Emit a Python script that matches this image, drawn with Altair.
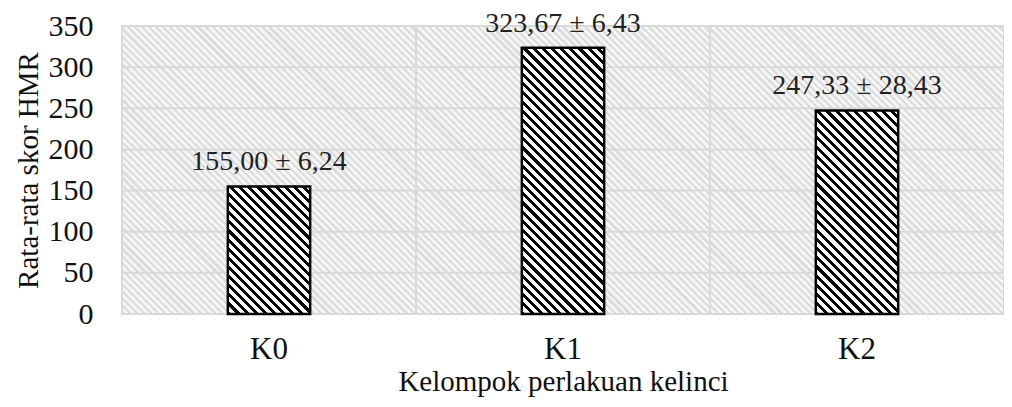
import math
import altair as alt
import pandas as pd

# ---- data ----
categories = ["K0", "K1", "K2"]
means = [155.00, 323.67, 247.33]
sds = [6.24, 6.43, 28.43]
y_ticks = [0, 50, 100, 150, 200, 250, 300, 350]
y_domain = [0, 350]

labels = [f"{m:.2f}".replace(".", ",") + " \u00b1 " + f"{s:.2f}".replace(".", ",")
          for m, s in zip(means, sds)]
df = pd.DataFrame({"cat": categories, "mean": means, "label": labels})
grid_df = pd.DataFrame({"v": y_ticks})

# ---- layout ----
PW, PH = 882, 288
BAND = PW / len(categories)
BAR_FRAC = 0.28
FONT = "Liberation Serif"


def hatch(W, H, period, frac, ink, paper):
    """Diagonal ('\\') stripes at 45 deg for a W x H box, as a bounding-box gradient."""
    k = (W + H) / (W * W + H * H)
    n = max(1, round((W + H) / math.sqrt(2) / period))
    stops = []
    for i in range(n):
        a, b, c = i / n, (i + frac) / n, (i + 1) / n
        stops += [{"offset": a, "color": ink}, {"offset": b, "color": ink},
                  {"offset": b, "color": paper}, {"offset": c, "color": paper}]
    return {"gradient": "linear", "x1": 0, "y1": 1, "x2": k * W, "y2": 1 - k * H,
            "stops": stops}


x_enc = alt.X("cat:N", sort=categories,
              scale=alt.Scale(paddingInner=0, paddingOuter=0),
              axis=alt.Axis(title="Kelompok perlakuan kelinci", labelAngle=0,
                            domain=False, ticks=False, grid=False,
                            labelFont=FONT, labelFontSize=31, labelColor="#111",
                            labelPadding=20, titleFont=FONT, titleFontSize=29,
                            titleFontWeight="normal", titleColor="#111",
                            titlePadding=3))
y_axis = alt.Axis(title="Rata-rata skor HMR", values=y_ticks, domain=False,
                  ticks=False, grid=False, labelFont=FONT, labelFontSize=30,
                  labelColor="#111", labelPadding=29, titleFont=FONT,
                  titleFontSize=29, titleFontWeight="normal", titleColor="#111",
                  titlePadding=5)
y_scale = alt.Scale(domain=y_domain, nice=False)

bg = alt.Chart(df).mark_rect(
    fill=hatch(BAND, PH, 5, 0.45, "#dcdcdc", "#f5f5f5"),
    stroke="#d9d9d9", strokeWidth=2
).encode(x=x_enc, y=alt.datum(y_domain[0]), y2=alt.datum(y_domain[1]))

grid = alt.Chart(grid_df).mark_rule(color="#d9d9d9", strokeWidth=2).encode(
    y=alt.Y("v:Q", scale=y_scale, axis=y_axis))

bars = []
for c, m in zip(categories, means):
    H = m / y_domain[1] * PH
    W = BAR_FRAC * BAND
    bars.append(
        alt.Chart(df).transform_filter(alt.datum.cat == c).mark_bar(
            fill=hatch(W, H, 6.5, 0.45, "#000000", "#ffffff"),
            stroke="#000000", strokeWidth=2.5, width={"band": BAR_FRAC}
        ).encode(x=x_enc, y=alt.Y("mean:Q", scale=y_scale, axis=y_axis))
    )

text = alt.Chart(df).mark_text(font=FONT, fontSize=28, color="#222",
                               baseline="alphabetic", dy=-16).encode(
    x=x_enc, y=alt.Y("mean:Q", scale=y_scale, axis=y_axis), text="label:N")

chart = alt.layer(bg, grid, *bars, text).properties(
    width=PW, height=PH,
    autosize=alt.AutoSizeParams(type="none"),
    padding={"left": 114, "top": 18, "right": 0, "bottom": 85},
).configure_view(stroke=None).configure(background="white")

chart.save("out.html", embed_options={"renderer": "svg", "actions": False})
